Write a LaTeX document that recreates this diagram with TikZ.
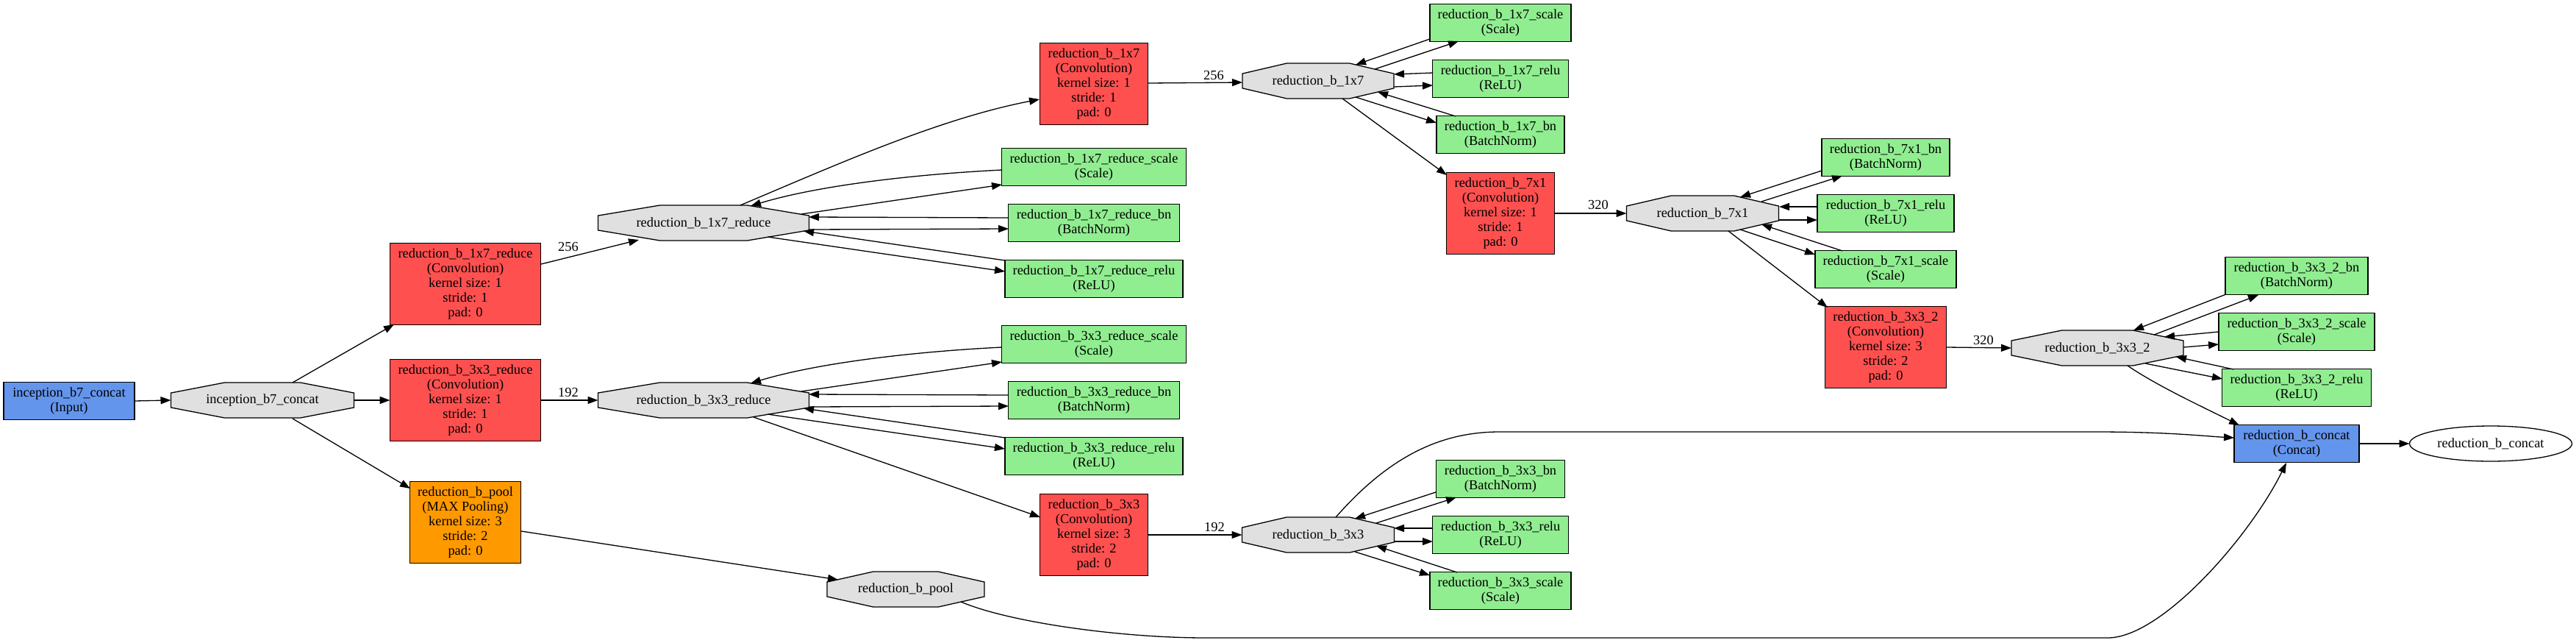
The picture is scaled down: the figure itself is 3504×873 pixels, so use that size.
\documentclass[tikz,border=0pt]{standalone}
\usepackage{fontspec}
\setmainfont{Liberation Serif}
\usetikzlibrary{arrows.meta,calc,shapes.geometric,backgrounds}
\definecolor{convred}{HTML}{FF5050}
\definecolor{poolor}{HTML}{FF9900}
\definecolor{datablue}{HTML}{6495ED}
\definecolor{neurgreen}{HTML}{90EE90}
\definecolor{blobgray}{HTML}{E0E0E0}
\tikzset{
  lbl/.style={font=\fontsize{18.4}{20}\selectfont, align=center, inner sep=0pt, outer sep=0pt},
  box/.style={lbl, draw=black, line width=1.3pt, rectangle, minimum height=51pt},
  conv/.style={box, fill=convred, minimum height=111pt},
  poolbox/.style={box, fill=poolor, minimum height=111pt},
  databox/.style={box, fill=datablue},
  neur/.style={box, fill=neurgreen},
  blob/.style={lbl, rectangle, minimum height=48pt},
  octline/.style={fill=blobgray, draw=black, line width=1.3pt},
  outblob/.style={lbl, ellipse, draw=black, line width=1.3pt, minimum height=48pt},
  e/.style={-{Triangle[length=14pt,width=10pt]}, line width=1.3pt},
  elab/.style={lbl}
}
\newcommand\octo[1]{%
  \begin{scope}[on background layer]
  \filldraw[octline] ($(#1.north west)!0.293!(#1.north east)$) -- ($(#1.north west)!0.707!(#1.north east)$)
   -- ($(#1.north east)!0.293!(#1.south east)$) -- ($(#1.north east)!0.707!(#1.south east)$)
   -- ($(#1.south west)!0.707!(#1.south east)$) -- ($(#1.south west)!0.293!(#1.south east)$)
   -- ($(#1.north west)!0.707!(#1.south west)$) -- ($(#1.north west)!0.293!(#1.south west)$) -- cycle;
  \end{scope}}
\begin{document}
\begin{tikzpicture}[x=1pt,y=-1pt]
\begin{scope}[on background layer]
\fill[white] (0,0) rectangle (3504,873);
\end{scope}
\useasboundingbox (0,0) rectangle (3504,873);

% nodes
\node[databox, minimum width=178pt] (in) at (94,545) {inception\_b7\_concat\\(Input)};
\node[blob, minimum width=249pt] (icat) at (357,544) {inception\_b7\_concat}; \octo{icat}
\node[conv, minimum width=205pt] (c1r) at (633,386) {reduction\_b\_1x7\_reduce\\(Convolution)\\kernel size: 1\\stride: 1\\pad: 0};
\node[conv, minimum width=205pt] (c3r) at (633,544) {reduction\_b\_3x3\_reduce\\(Convolution)\\kernel size: 1\\stride: 1\\pad: 0};
\node[poolbox, minimum width=151pt] (pool) at (633,710) {reduction\_b\_pool\\(MAX Pooling)\\kernel size: 3\\stride: 2\\pad: 0};
\node[blob, minimum width=287pt] (o1r) at (957,303) {reduction\_b\_1x7\_reduce}; \octo{o1r}
\node[blob, minimum width=287pt] (o3r) at (957,544) {reduction\_b\_3x3\_reduce}; \octo{o3r}
\node[neur, minimum width=251pt] (s1r) at (1488,227) {reduction\_b\_1x7\_reduce\_scale\\(Scale)};
\node[neur, minimum width=233pt] (b1r) at (1488,303) {reduction\_b\_1x7\_reduce\_bn\\(BatchNorm)};
\node[neur, minimum width=242pt] (r1r) at (1488,379) {reduction\_b\_1x7\_reduce\_relu\\(ReLU)};
\node[neur, minimum width=251pt] (s3r) at (1488,468) {reduction\_b\_3x3\_reduce\_scale\\(Scale)};
\node[neur, minimum width=233pt] (b3r) at (1488,544) {reduction\_b\_3x3\_reduce\_bn\\(BatchNorm)};
\node[neur, minimum width=242pt] (r3r) at (1488,620) {reduction\_b\_3x3\_reduce\_relu\\(ReLU)};
\node[conv, minimum width=147pt] (c17) at (1488,114) {reduction\_b\_1x7\\(Convolution)\\kernel size: 1\\stride: 1\\pad: 0};
\node[conv, minimum width=147pt] (c33) at (1488,727) {reduction\_b\_3x3\\(Convolution)\\kernel size: 3\\stride: 2\\pad: 0};
\node[blob, minimum width=214pt] (opool) at (1232,801) {reduction\_b\_pool}; \octo{opool}
\node[blob, minimum width=206pt] (o17) at (1793,110) {reduction\_b\_1x7}; \octo{o17}
\node[neur, minimum width=192pt] (s17) at (2041,31) {reduction\_b\_1x7\_scale\\(Scale)};
\node[neur, minimum width=185pt] (rl17) at (2041,107) {reduction\_b\_1x7\_relu\\(ReLU)};
\node[neur, minimum width=174pt] (b17) at (2041,183) {reduction\_b\_1x7\_bn\\(BatchNorm)};
\node[conv, minimum width=147pt] (c71) at (2041,290) {reduction\_b\_7x1\\(Convolution)\\kernel size: 1\\stride: 1\\pad: 0};
\node[blob, minimum width=207pt] (o33) at (1793,727) {reduction\_b\_3x3}; \octo{o33}
\node[neur, minimum width=175pt] (b33) at (2041,651) {reduction\_b\_3x3\_bn\\(BatchNorm)};
\node[neur, minimum width=185pt] (rl33) at (2041,727) {reduction\_b\_3x3\_relu\\(ReLU)};
\node[neur, minimum width=192pt] (s33) at (2041,803) {reduction\_b\_3x3\_scale\\(Scale)};
\node[blob, minimum width=207pt] (o71) at (2316,290) {reduction\_b\_7x1}; \octo{o71}
\node[neur, minimum width=174pt] (b71) at (2565,214) {reduction\_b\_7x1\_bn\\(BatchNorm)};
\node[neur, minimum width=186pt] (rl71) at (2565,290) {reduction\_b\_7x1\_relu\\(ReLU)};
\node[neur, minimum width=192pt] (s71) at (2565,366) {reduction\_b\_7x1\_scale\\(Scale)};
\node[conv, minimum width=165pt] (c332) at (2565,472) {reduction\_b\_3x3\_2\\(Convolution)\\kernel size: 3\\stride: 2\\pad: 0};
\node[blob, minimum width=234pt] (o332) at (2853,473) {reduction\_b\_3x3\_2}; \octo{o332}
\node[neur, minimum width=194pt] (b332) at (3124,375) {reduction\_b\_3x3\_2\_bn\\(BatchNorm)};
\node[neur, minimum width=212pt] (s332) at (3124,451) {reduction\_b\_3x3\_2\_scale\\(Scale)};
\node[neur, minimum width=203pt] (rl332) at (3124,527) {reduction\_b\_3x3\_2\_relu\\(ReLU)};
\node[databox, minimum width=170pt] (cat) at (3124,603) {reduction\_b\_concat\\(Concat)};
\node[outblob, minimum width=221pt] (out) at (3388,603) {reduction\_b\_concat};

% edge labels
\node[elab] (l256a) at (773,335) {256};
\node[elab] (l192a) at (773,533) {192};
\node[elab] (l256b) at (1651,102) {256};
\node[elab] (l192b) at (1652,716) {192};
\node[elab] (l320a) at (2174,278) {320};
\node[elab] (l320b) at (2698,462) {320};

% input stage
\draw[e] (in.east) -- (icat.west);
\draw[e] ($(icat)+(41,-24)$) -- ($(c1r)+(-97,55)$);
\draw[e] (icat.east) -- (c3r.west);
\draw[e] ($(icat)+(41,25)$) -- ($(pool)+(-75,-46)$);

% 1x7 reduce
\draw[e] ($(c1r)+(103,-27)$) -- ($(o1r)+(-88,23)$);
\draw[e] ($(o1r)+(50,-24)$) .. controls (1142,222) and (1279,161) .. ($(c17)+(-74,21)$);
\draw[e] ($(s1r)+(-125,4)$) .. controls (1260,236) and (1120,250) .. ($(o1r)+(64,-23)$);
\draw[e] ($(o1r)+(133,-12)$) -- ($(s1r)+(-125,24)$);
\draw[e] ($(b1r)+(-116,-7)$) -- ($(o1r)+(143,-8)$);
\draw[e] ($(o1r)+(143,9)$) -- ($(b1r)+(-116,8)$);
\draw[e] ($(r1r)+(-121,-25)$) -- ($(o1r)+(136,11)$);
\draw[e] ($(o1r)+(87,19)$) -- ($(r1r)+(-121,-10)$);

% 3x3 reduce
\draw[e] (c3r.east) -- (o3r.west);
\draw[e] ($(s3r)+(-125,4)$) .. controls (1260,477) and (1120,491) .. ($(o3r)+(64,-23)$);
\draw[e] ($(o3r)+(133,-12)$) -- ($(s3r)+(-125,24)$);
\draw[e] ($(b3r)+(-116,-7)$) -- ($(o3r)+(143,-8)$);
\draw[e] ($(o3r)+(143,9)$) -- ($(b3r)+(-116,8)$);
\draw[e] ($(r3r)+(-121,-25)$) -- ($(o3r)+(136,11)$);
\draw[e] ($(o3r)+(87,19)$) -- ($(r3r)+(-121,-10)$);
\draw[e] ($(o3r)+(68,23)$) -- ($(c33)+(-73,-24)$);

% pool
\draw[e] ($(pool)+(76,12)$) -- ($(opool)+(-92,-13)$);
\draw[e] ($(opool)+(75,17)$) .. controls (1370,845) and (1520,867) .. (1640,867) -- (2867,867) .. controls (2940,867) and (3060,730) .. ($(cat)+(-14,26)$);

% 1x7
\draw[e] ($(c17)+(74,-1)$) -- ($(o17)+(-103,2)$);
\draw[e] ($(s17)+(-96,22)$) -- ($(o17)+(51,-22)$);
\draw[e] ($(o17)+(77,-16)$) -- ($(s17)+(-57,25)$);
\draw[e] ($(rl17)+(-92,-8)$) -- ($(o17)+(103,-9)$);
\draw[e] ($(o17)+(103,8)$) -- ($(rl17)+(-92,9)$);
\draw[e] ($(b17)+(-61,-25)$) -- ($(o17)+(81,15)$);
\draw[e] ($(o17)+(51,22)$) -- ($(b17)+(-87,-16)$);
\draw[e] ($(o17)+(33,24)$) -- ($(c71)+(-73,-52)$);

% 7x1
\draw[e] (c71.east) -- (o71.west);
\draw[e] ($(b71)+(-87,18)$) -- ($(o71)+(51,-22)$);
\draw[e] ($(o71)+(80,-16)$) -- ($(b71)+(-59,25)$);
\draw[e] ($(rl71)+(-93,-9)$) -- ($(o71)+(104,-9)$);
\draw[e] ($(o71)+(104,9)$) -- ($(rl71)+(-93,9)$);
\draw[e] ($(s71)+(-59,-25)$) -- ($(o71)+(80,15)$);
\draw[e] ($(o71)+(51,22)$) -- ($(s71)+(-96,-20)$);
\draw[e] ($(o71)+(35,24)$) -- ($(c332)+(-79,-54)$);

% 3x3_2
\draw[e] (c332.east) -- (o332.west);
\draw[e] ($(b332)+(-96,25)$) -- ($(o332)+(49,-24)$);
\draw[e] ($(o332)+(77,-18)$) -- ($(b332)+(-52,26)$);
\draw[e] ($(s332)+(-106,0)$) -- ($(o332)+(91,-15)$);
\draw[e] ($(o332)+(117,-1)$) -- ($(s332)+(-106,17)$);
\draw[e] ($(rl332)+(-86,-25)$) -- ($(o332)+(107,12)$);
\draw[e] ($(o332)+(65,21)$) -- ($(rl332)+(-101,-12)$);
\draw[e] ($(o332)+(41,24)$) .. controls (2935,525) and (3000,555) .. ($(cat)+(-78,-25)$);

% 3x3
\draw[e] (c33.east) -- (o33.west);
\draw[e] ($(b33)+(-88,18)$) -- ($(o33)+(50,-22)$);
\draw[e] ($(o33)+(79,-16)$) -- ($(b33)+(-60,25)$);
\draw[e] ($(rl33)+(-92,-9)$) -- ($(o33)+(103,-9)$);
\draw[e] ($(o33)+(103,9)$) -- ($(rl33)+(-92,9)$);
\draw[e] ($(s33)+(-59,-25)$) -- ($(o33)+(79,15)$);
\draw[e] ($(o33)+(50,23)$) -- ($(s33)+(-96,-21)$);
\draw[e] ($(o33)+(24,-24)$) .. controls (1890,620) and (1960,587) .. (2040,587) -- (2850,587) .. controls (2950,587) and (3000,593) .. ($(cat)+(-85,-8)$);

% output
\draw[e] (cat.east) -- (out.west);
\end{tikzpicture}
\end{document}
